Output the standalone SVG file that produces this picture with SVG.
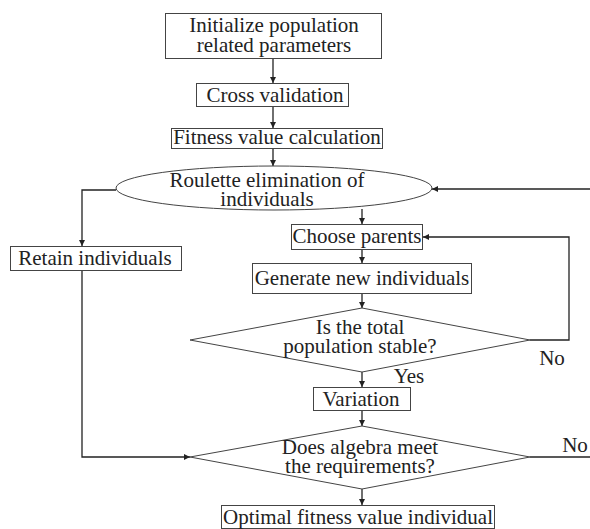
<svg xmlns="http://www.w3.org/2000/svg" width="590" height="529" viewBox="0 0 590 529">
<defs>
<marker id="ah" viewBox="0 0 10 10" refX="10" refY="5" markerWidth="6" markerHeight="6" markerUnits="userSpaceOnUse" orient="auto">
<path d="M0,0 L10,5 L0,10 z" fill="#222"/>
</marker>
<style>
.box{fill:#fff;stroke:#444;stroke-width:1}
.t{font-family:"Liberation Serif","Times New Roman",serif;font-size:21px;fill:#222;text-anchor:middle}
.c{fill:none;stroke:#222;stroke-width:1.3}
.a{marker-end:url(#ah)}
</style>
</defs>
<rect width="590" height="529" fill="#fff"/>
<g id="connectors">
<path class="c a" d="M273,58 V83"/>
<path class="c a" d="M273,106 V128"/>
<path class="c a" d="M273,148 V166"/>
<path class="c a" d="M590,189 H432"/>
<path class="c a" d="M116,190 H82 V246"/>
<path class="c a" d="M362,209 V224"/>
<path class="c a" d="M362,249 V263"/>
<path class="c a" d="M362,293 V308"/>
<path class="c a" d="M530,340 H569 V237 H423"/>
<path class="c a" d="M362,372 V387"/>
<path class="c a" d="M362,410 V426"/>
<path class="c a" d="M82,270 V457 H190"/>
<path class="c" d="M530,457 H590"/>
<path class="c a" d="M362,489 V505"/>
</g>
<g id="init">
<rect class="box" x="165.5" y="13.5" width="216" height="45"/>
<text class="t" x="274" y="32">Initialize population</text>
<text class="t" x="274" y="52">related parameters</text>
</g>
<g id="cross">
<rect class="box" x="196.5" y="83.5" width="152" height="23"/>
<text class="t" x="275" y="102">Cross validation</text>
</g>
<g id="fitness">
<rect class="box" x="171.5" y="128.5" width="211" height="20"/>
<text class="t" x="277" y="144">Fitness value calculation</text>
</g>
<g id="roulette">
<ellipse class="box" cx="274" cy="188" rx="158" ry="22"/>
<text class="t" x="267" y="187">Roulette elimination of</text>
<text class="t" x="267" y="206">individuals</text>
</g>
<g id="retain">
<rect class="box" x="10.5" y="246.5" width="171" height="24"/>
<text class="t" x="95" y="265">Retain individuals</text>
</g>
<g id="choose">
<rect class="box" x="291.5" y="224.5" width="131" height="25"/>
<text class="t" x="357" y="243">Choose parents</text>
</g>
<g id="generate">
<rect class="box" x="252.5" y="263.5" width="219" height="30"/>
<text class="t" x="362" y="285">Generate new individuals</text>
</g>
<g id="stable">
<polygon class="box" points="362,308 530,340 362,372 190,340"/>
<text class="t" x="360" y="334">Is the total</text>
<text class="t" x="360" y="353">population stable?</text>
</g>
<g id="variation">
<rect class="box" x="313.5" y="387.5" width="97" height="23"/>
<text class="t" x="361" y="406">Variation</text>
</g>
<g id="algebra">
<polygon class="box" points="362,426 530,457 362,489 190,457"/>
<text class="t" x="360" y="454">Does algebra meet</text>
<text class="t" x="360" y="473">the requirements?</text>
</g>
<g id="optimal">
<rect class="box" x="221.5" y="505.5" width="273" height="23"/>
<text class="t" x="358" y="524">Optimal fitness value individual</text>
</g>
<g id="labels">
<text class="t" x="552" y="365">No</text>
<text class="t" x="409" y="383">Yes</text>
<text class="t" x="575" y="452">No</text>
</g>
</svg>
